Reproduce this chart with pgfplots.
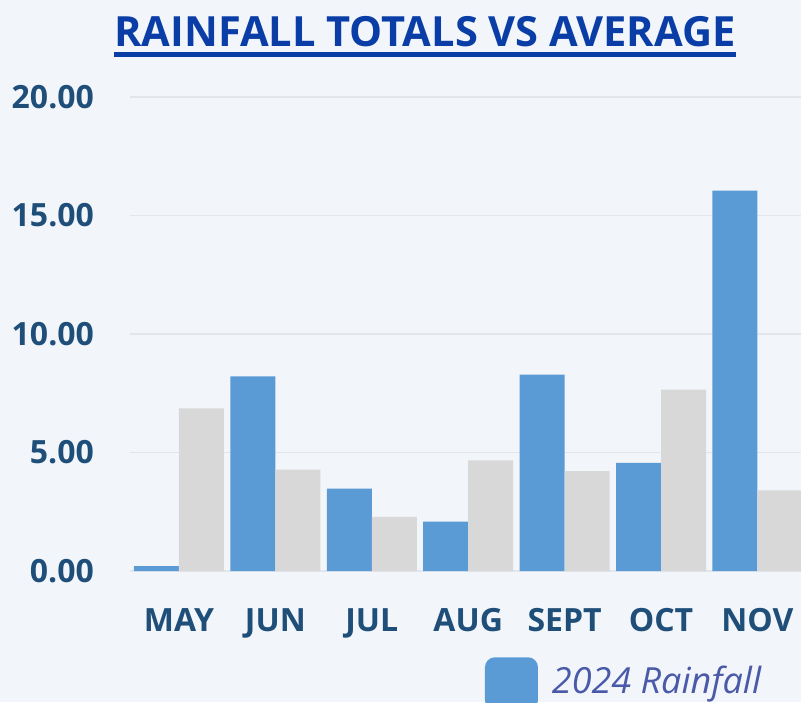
\documentclass[border=0pt]{standalone}
\usepackage{fontspec}
\setmainfont{Open Sans}
\usepackage{pgfplots}
\pgfplotsset{compat=1.18}
\usepackage{pgfplotstable}
\definecolor{bg}{HTML}{F2F6FB}
\definecolor{barblue}{HTML}{5B9BD5}
\definecolor{bargrey}{HTML}{D8D8D8}
\definecolor{gridc}{HTML}{E2E6EB}
\definecolor{tickc}{HTML}{1F4E79}
\definecolor{titlec}{HTML}{0A3EA6}
\definecolor{legc}{HTML}{4A5AA8}
\pgfplotstableread{
x rain avg
0 0.21 6.86
1 8.21 4.28
2 3.48 2.28
3 2.08 4.67
4 8.29 4.21
5 4.56 7.65
6 16.05 3.40
}\datatable
\begin{document}
\begin{tikzpicture}
\useasboundingbox (0,0) rectangle (400.5pt,351pt);
\fill[bg] (0,0) rectangle (400.5pt,351pt);
\clip (0,0) rectangle (400.5pt,351pt);
\begin{axis}[
  at={(65pt,65.5pt)}, anchor=south west,
  scale only axis, width=335.5pt, height=237pt,
  ybar=0pt, bar width=22.5pt,
  xmin=-0.508, xmax=6.452, ymin=0, ymax=20,
  xtick={0,...,6},
  xticklabels={MAY,JUN,JUL,AUG,SEPT,OCT,NOV},
  ytick={0,5,10,15,20},
  ymajorgrids, grid style={gridc, line width=0.6pt},
  axis line style={draw=none},
  tick style={draw=none},
  xticklabel style={anchor=base, inner sep=0pt, yshift=-25.8pt, font=\fontsize{16}{19}\selectfont\bfseries, text=tickc},
  yticklabel style={anchor=east, inner sep=0pt, xshift=-17.85pt, font=\fontsize{16}{19}\selectfont\bfseries, text=tickc,
    /pgf/number format/.cd, fixed, fixed zerofill, precision=2, assume math mode=true},
  legend style={draw=none, fill=none, inner sep=0pt, outer sep=0pt,
    at={(axis description cs:0.529,-0.182)}, anchor=north west,
    nodes={inner sep=0pt, text=legc},
    font=\fontsize{18}{22}\selectfont\itshape,
    /tikz/every odd column/.append style={column sep=7pt}},
  legend image code/.code={\fill[#1, rounded corners=5pt] (0pt,-14.3pt) rectangle (26.5pt,12.2pt);},
]
\addplot[fill=barblue, draw=none] table[x=x, y=rain] {\datatable};
\addplot[fill=bargrey, draw=none] table[x=x, y=avg] {\datatable};
\legend{2024 Rainfall}
\end{axis}
\node[anchor=base, inner sep=0pt, text=titlec, font=\fontsize{20.8}{25}\selectfont\bfseries] (t) at (212.5pt,327.65pt) {RAINFALL TOTALS VS AVERAGE};
\draw[titlec, line width=2.2pt] ([yshift=-3.9pt]t.base west) -- ([yshift=-3.9pt]t.base east);
\end{tikzpicture}
\end{document}
